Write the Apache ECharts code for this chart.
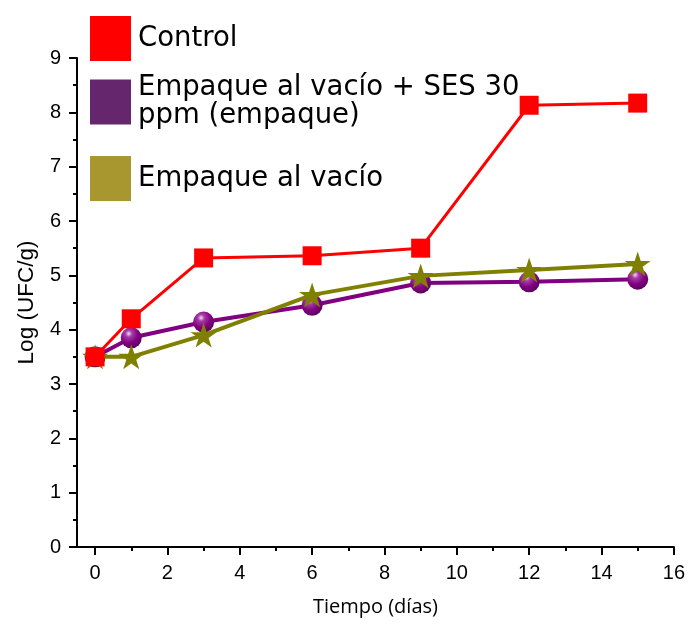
<!DOCTYPE html>
<html>
<head>
<meta charset="utf-8">
<script src="https://cdn.jsdelivr.net/npm/echarts@6/dist/echarts.min.js"></script>
<style>
  html, body { margin: 0; padding: 0; background: #fff; }
  #chart { width: 688px; height: 625px; }
</style>
</head>
<body>
<div id="chart"></div>
<script>
// Storage time in days
const days = [0, 1, 3, 6, 9, 12, 15];
// Log (UFC/g) per treatment
const control = [3.5, 4.2, 5.32, 5.36, 5.5, 8.13, 8.17];
const vacioSes = [3.5, 3.85, 4.14, 4.45, 4.86, 4.88, 4.93];
const vacio = [3.5, 3.5, 3.9, 4.64, 4.99, 5.1, 5.21];

const xTicks = [0, 2, 4, 6, 8, 10, 12, 14, 16];
const xMinorTicks = [1, 3, 5, 7, 9, 11, 13, 15];

const names = ['Control', 'Empaque al vacío + SES 30 ppm (empaque)', 'Empaque al vacío'];

const pairs = vals => days.map((d, i) => [d, vals[i]]);

const starPath = 'path://M50,0 L61.2,34.5 L97.6,34.5 L68.2,55.9 L79.4,90.5 L50,69.1 L20.6,90.5 L31.8,55.9 L2.4,34.5 L38.8,34.5 Z';

const legendBase = {
  orient: 'vertical',
  padding: 0,
  icon: 'rect',
  itemWidth: 41,
  itemHeight: 45,
  selectedMode: false,
  textStyle: {
    fontFamily: 'DejaVu Sans', fontSize: 27.5, color: '#000', lineHeight: 28,
    padding: [6, 0, 0, 2]
  }
};

const chart = echarts.init(document.getElementById('chart'), null, { renderer: 'canvas' });
chart.setOption({
  animation: false,
  backgroundColor: '#fff',
  grid: { left: 77, right: 14, top: 58, bottom: 78 },
  legend: [
    Object.assign({}, legendBase, {
      left: 90, top: 16,
      data: [{ name: names[0], itemStyle: { color: '#ff0000' } }]
    }),
    Object.assign({}, legendBase, {
      left: 90, top: 71,
      formatter: n => n.replace(' 30 ', ' 30\n'),
      data: [{ name: names[1], itemStyle: { color: '#66266e' } }]
    }),
    Object.assign({}, legendBase, {
      left: 90, top: 156,
      data: [{ name: names[2], itemStyle: { color: '#a8962f' } }]
    })
  ],
  xAxis: [
    {
      type: 'value', min: -0.5, max: 16,
      name: 'Tiempo (días)', nameLocation: 'middle', nameGap: 50,
      nameTextStyle: { fontFamily: 'Open Sans', fontSize: 20, color: '#000' },
      axisLine: { show: true, onZero: false, lineStyle: { color: '#000', width: 2 } },
      axisTick: { show: true, customValues: xTicks, length: 8, lineStyle: { color: '#000', width: 2 } },
      axisLabel: { customValues: xTicks, margin: 16, fontFamily: 'Liberation Sans', fontSize: 20, color: '#000' },
      splitLine: { show: false }
    },
    {
      type: 'value', min: -0.5, max: 16, position: 'bottom',
      axisLine: { show: false },
      axisTick: { show: true, customValues: xMinorTicks, length: 4, lineStyle: { color: '#000', width: 2 } },
      axisLabel: { show: false },
      splitLine: { show: false }
    }
  ],
  yAxis: {
    type: 'value', min: 0, max: 9, interval: 1,
    name: 'Log (UFC/g)', nameLocation: 'middle', nameGap: 39,
    nameTextStyle: { fontFamily: 'Liberation Sans', fontSize: 22.5, color: '#000' },
    axisLine: { show: true, onZero: false, lineStyle: { color: '#000', width: 2 } },
    axisTick: { show: true, length: 8, lineStyle: { color: '#000', width: 2 } },
    minorTick: { show: true, splitNumber: 2, length: 4, lineStyle: { color: '#000', width: 2 } },
    axisLabel: { margin: 16, fontFamily: 'Liberation Sans', fontSize: 20, color: '#000' },
    splitLine: { show: false }
  },
  series: [
    {
      name: names[1], type: 'line', z: 2,
      data: pairs(vacioSes),
      symbol: 'circle', symbolSize: 21,
      lineStyle: { color: '#800080', width: 4 },
      itemStyle: {
        color: {
          type: 'radial', x: 0.38, y: 0.3, r: 0.75,
          colorStops: [
            { offset: 0, color: '#f2d8f2' },
            { offset: 0.22, color: '#a63aa6' },
            { offset: 0.6, color: '#800080' },
            { offset: 1, color: '#5a005a' }
          ]
        }
      }
    },
    {
      name: names[2], type: 'line', z: 3,
      data: pairs(vacio),
      symbol: starPath, symbolSize: [26, 25],
      lineStyle: { color: '#808000', width: 4 },
      itemStyle: { color: '#808000' }
    },
    {
      name: names[0], type: 'line', z: 4,
      data: pairs(control),
      symbol: 'rect', symbolSize: 19,
      lineStyle: { color: '#ff0000', width: 3 },
      itemStyle: { color: '#ff0000' }
    }
  ]
});
</script>
</body>
</html>
